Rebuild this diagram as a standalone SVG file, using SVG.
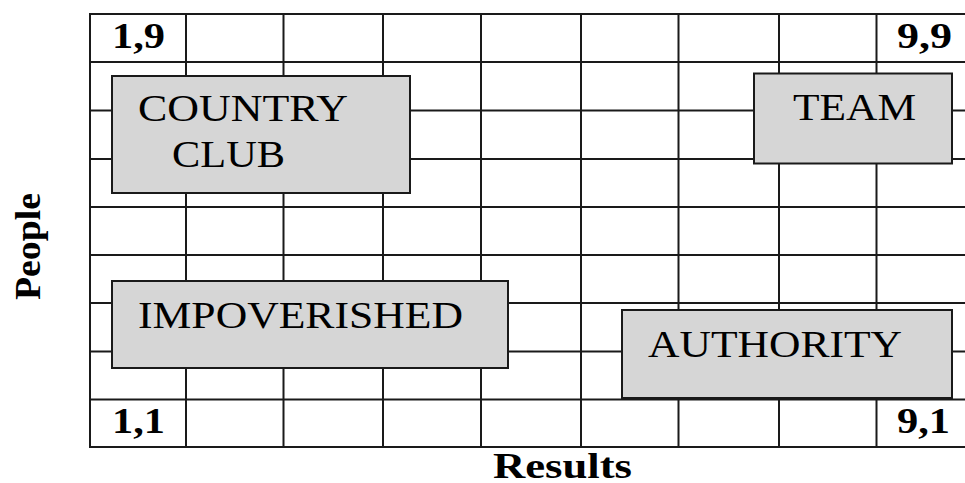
<svg xmlns="http://www.w3.org/2000/svg" width="965" height="483" viewBox="0 0 965 483">
<style>
.grid line{stroke:#1a1a1a;stroke-width:2}
.box rect{fill:#d6d6d6;stroke:#1a1a1a;stroke-width:2}
.t{font-family:"Liberation Serif","Times New Roman",serif;font-size:37px;fill:#000}
.b{font-family:"Liberation Serif","Times New Roman",serif;font-size:36px;font-weight:bold;fill:#000}
</style>
<rect width="965" height="483" fill="#fff"/>
<g id="grid" class="grid">
<line x1="90" y1="14" x2="965" y2="14"/>
<line x1="90" y1="62" x2="965" y2="62"/>
<line x1="90" y1="110.5" x2="965" y2="110.5"/>
<line x1="90" y1="159" x2="965" y2="159"/>
<line x1="90" y1="207" x2="965" y2="207"/>
<line x1="90" y1="255" x2="965" y2="255"/>
<line x1="90" y1="303" x2="965" y2="303"/>
<line x1="90" y1="351.5" x2="965" y2="351.5"/>
<line x1="90" y1="399.5" x2="965" y2="399.5"/>
<line x1="90" y1="447" x2="965" y2="447"/>
<line x1="90" y1="13" x2="90" y2="448"/>
<line x1="186" y1="13" x2="186" y2="448"/>
<line x1="283.5" y1="13" x2="283.5" y2="448"/>
<line x1="383" y1="13" x2="383" y2="448"/>
<line x1="481" y1="13" x2="481" y2="448"/>
<line x1="581" y1="13" x2="581" y2="448"/>
<line x1="678.5" y1="13" x2="678.5" y2="448"/>
<line x1="779" y1="13" x2="779" y2="448"/>
<line x1="876.5" y1="13" x2="876.5" y2="448"/>
</g>
<g id="corners">
<text class="b" x="112" y="48" textLength="53" lengthAdjust="spacingAndGlyphs">1,9</text>
<text class="b" x="897" y="48" textLength="55" lengthAdjust="spacingAndGlyphs">9,9</text>
<text class="b" x="112" y="433" textLength="53" lengthAdjust="spacingAndGlyphs">1,1</text>
<text class="b" x="897" y="433" textLength="53" lengthAdjust="spacingAndGlyphs">9,1</text>
</g>
<g id="country-club" class="box">
<rect x="112" y="76" width="298" height="117"/>
<text class="t" x="138" y="121" textLength="210" lengthAdjust="spacingAndGlyphs">COUNTRY</text>
<text class="t" x="172" y="167" textLength="113" lengthAdjust="spacingAndGlyphs">CLUB</text>
</g>
<g id="team" class="box">
<rect x="754" y="73.5" width="198" height="90"/>
<text class="t" x="793" y="120" textLength="123" lengthAdjust="spacingAndGlyphs">TEAM</text>
</g>
<g id="impoverished" class="box">
<rect x="112" y="281" width="396" height="87"/>
<text class="t" x="138" y="328" textLength="325" lengthAdjust="spacingAndGlyphs">IMPOVERISHED</text>
</g>
<g id="authority" class="box">
<rect x="622" y="310" width="330" height="88"/>
<text class="t" x="648" y="357" textLength="254" lengthAdjust="spacingAndGlyphs">AUTHORITY</text>
</g>
<g id="axes">
<text class="b" x="493" y="478" textLength="139" lengthAdjust="spacingAndGlyphs">Results</text>
<text class="b" transform="translate(40,300) rotate(-90)" x="0" y="0" textLength="107" lengthAdjust="spacingAndGlyphs">People</text>
</g>
</svg>
